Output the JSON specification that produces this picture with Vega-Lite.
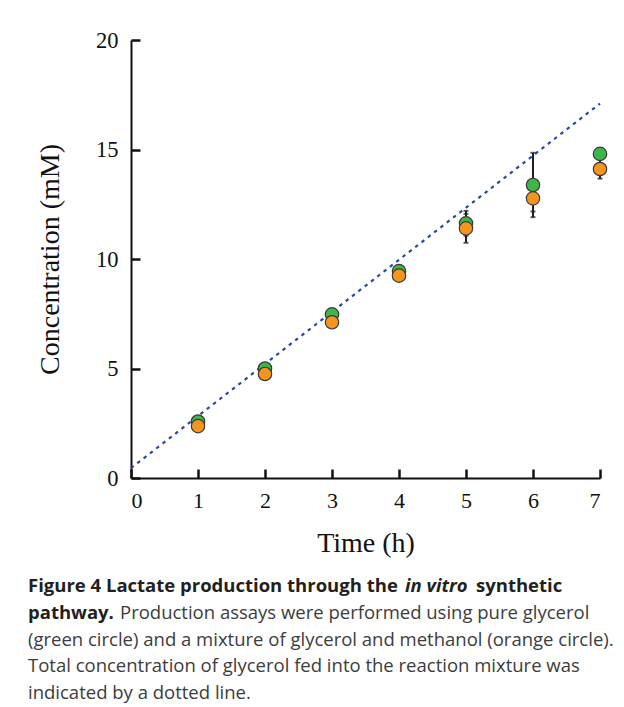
{
  "$schema": "https://vega.github.io/schema/vega-lite/v6.json",
  "padding": {"left": 28, "top": 29, "right": 0, "bottom": 0},
  "background": "white",
  "config": {
    "view": {"stroke": null},
    "axis": {"grid": false}
  },
  "spacing": 114,
  "bounds": "flush",
  "datasets": {
    "pts": [
      {"time": 1, "series": "glycerol", "conc": 2.58},
      {"time": 2, "series": "glycerol", "conc": 5.0},
      {"time": 3, "series": "glycerol", "conc": 7.47},
      {"time": 4, "series": "glycerol", "conc": 9.45},
      {"time": 5, "series": "glycerol", "conc": 11.63},
      {"time": 6, "series": "glycerol", "conc": 13.38},
      {"time": 7, "series": "glycerol", "conc": 14.8},
      {"time": 1, "series": "glycerol+methanol", "conc": 2.37},
      {"time": 2, "series": "glycerol+methanol", "conc": 4.75},
      {"time": 3, "series": "glycerol+methanol", "conc": 7.11},
      {"time": 4, "series": "glycerol+methanol", "conc": 9.24},
      {"time": 5, "series": "glycerol+methanol", "conc": 11.4},
      {"time": 6, "series": "glycerol+methanol", "conc": 12.77},
      {"time": 7, "series": "glycerol+methanol", "conc": 14.11}
    ],
    "err": [
      {"time": 5, "series": "glycerol", "lo": 11.06, "hi": 12.2},
      {"time": 6, "series": "glycerol", "lo": 11.91, "hi": 14.85},
      {"time": 7, "series": "glycerol", "lo": 14.6, "hi": 15.0},
      {"time": 5, "series": "glycerol+methanol", "lo": 10.74, "hi": 12.06},
      {"time": 6, "series": "glycerol+methanol", "lo": 12.17, "hi": 13.37},
      {"time": 7, "series": "glycerol+methanol", "lo": 13.67, "hi": 14.55}
    ],
    "fed": [
      {"time": 0, "conc": 0.45},
      {"time": 7, "conc": 17.1}
    ],
    "caption": [
      {"line": 1, "part": "a", "text": "Figure 4 Lactate production through the"},
      {"line": 1, "part": "b", "text": "in vitro"},
      {"line": 1, "part": "c", "text": "synthetic"},
      {"line": 2, "part": "a", "text": "pathway."},
      {"line": 2, "part": "b", "text": "Production assays were performed using pure glycerol"},
      {"line": 3, "part": "a", "text": "(green circle) and a mixture of glycerol and methanol (orange circle)."},
      {"line": 4, "part": "a", "text": "Total concentration of glycerol fed into the reaction mixture was"},
      {"line": 5, "part": "a", "text": "indicated by a dotted line."}
    ]
  },
  "vconcat": [
    {
      "width": 469,
      "height": 438,
      "encoding": {
        "x": {
          "type": "quantitative",
          "scale": {"domain": [0, 7], "nice": false, "zero": false},
          "axis": {
            "title": "Time (h)",
            "values": [0, 1, 2, 3, 4, 5, 6, 7],
            "format": "d",
            "domainColor": "#111",
            "domainWidth": 2,
            "tickColor": "#111",
            "tickWidth": 2.5,
            "tickSize": -9,
            "labelPadding": 21,
            "labelFont": "Liberation Serif",
            "labelFontSize": 22,
            "labelColor": "#111",
            "titleFont": "Liberation Serif",
            "titleFontSize": 28,
            "titleFontWeight": "normal",
            "titleColor": "#111",
            "titlePadding": 18
          }
        },
        "y": {
          "type": "quantitative",
          "scale": {"domain": [0, 20], "nice": false},
          "axis": {
            "title": "Concentration (mM)",
            "values": [0, 5, 10, 15, 20],
            "domainColor": "#111",
            "domainWidth": 2,
            "tickColor": "#111",
            "tickWidth": 2.5,
            "tickSize": -9,
            "labelPadding": 22,
            "labelFont": "Liberation Serif",
            "labelFontSize": 22.5,
            "labelColor": "#111",
            "titleFont": "Liberation Serif",
            "titleFontSize": 28,
            "titleFontWeight": "normal",
            "titleColor": "#111",
            "titlePadding": 31
          }
        }
      },
      "layer": [
        {
          "data": {"name": "fed"},
          "mark": {"type": "line", "color": "#2a47a3", "strokeWidth": 2.2, "strokeDash": [3.5, 4.5]},
          "encoding": {
            "x": {"field": "time", "type": "quantitative"},
            "y": {"field": "conc", "type": "quantitative"}
          }
        },
        {
          "data": {"name": "err"},
          "mark": {"type": "rule", "color": "#231f20", "strokeWidth": 2},
          "encoding": {
            "x": {"field": "time", "type": "quantitative"},
            "y": {"field": "lo", "type": "quantitative"},
            "y2": {"field": "hi"}
          }
        },
        {
          "data": {"name": "err"},
          "mark": {"type": "tick", "color": "#231f20", "thickness": 2, "size": 5, "orient": "horizontal"},
          "encoding": {
            "x": {"field": "time", "type": "quantitative"},
            "y": {"field": "lo", "type": "quantitative"}
          }
        },
        {
          "data": {"name": "err"},
          "mark": {"type": "tick", "color": "#231f20", "thickness": 2, "size": 5, "orient": "horizontal"},
          "encoding": {
            "x": {"field": "time", "type": "quantitative"},
            "y": {"field": "hi", "type": "quantitative"}
          }
        },
        {
          "data": {"name": "pts"},
          "mark": {"type": "circle", "size": 180, "opacity": 1, "stroke": "#3a3a3a", "strokeWidth": 1.2},
          "encoding": {
            "x": {"field": "time", "type": "quantitative"},
            "y": {"field": "conc", "type": "quantitative"},
            "color": {
              "field": "series",
              "type": "nominal",
              "scale": {"domain": ["glycerol", "glycerol+methanol"], "range": ["#3db54a", "#f7941e"]},
              "legend": null
            }
          }
        }
      ]
    },
    {
      "width": 469,
      "height": 107,
      "data": {"name": "caption"},
      "encoding": {
        "x": {"datum": 0, "type": "quantitative", "scale": {"domain": [0, 1]}, "axis": null},
        "y": {"field": "line", "type": "quantitative", "scale": {"domain": [1, 5], "reverse": true, "nice": false, "zero": false}, "axis": null},
        "text": {"field": "text"}
      },
      "layer": [
        {
          "transform": [{"filter": "datum.part == 'a' && datum.line <= 2"}],
          "mark": {"type": "text", "align": "left", "baseline": "alphabetic", "font": "Open Sans", "fontSize": 18.5, "fontWeight": "bold", "color": "#231f20", "dx": -103}
        },
        {
          "transform": [{"filter": "datum.line == 1 && datum.part == 'b'"}],
          "mark": {"type": "text", "align": "left", "baseline": "alphabetic", "font": "Open Sans", "fontSize": 18.5, "fontWeight": "bold", "fontStyle": "italic", "color": "#231f20", "dx": 274}
        },
        {
          "transform": [{"filter": "datum.line == 1 && datum.part == 'c'"}],
          "mark": {"type": "text", "align": "left", "baseline": "alphabetic", "font": "Open Sans", "fontSize": 18.5, "fontWeight": "bold", "color": "#231f20", "dx": 345}
        },
        {
          "transform": [{"filter": "datum.line == 2 && datum.part == 'b'"}],
          "mark": {"type": "text", "align": "left", "baseline": "alphabetic", "font": "Open Sans", "fontSize": 18.5, "color": "#3c3c3c", "dx": -11}
        },
        {
          "transform": [{"filter": "datum.line >= 3"}],
          "mark": {"type": "text", "align": "left", "baseline": "alphabetic", "font": "Open Sans", "fontSize": 18.5, "color": "#3c3c3c", "dx": -103}
        }
      ]
    }
  ]
}
